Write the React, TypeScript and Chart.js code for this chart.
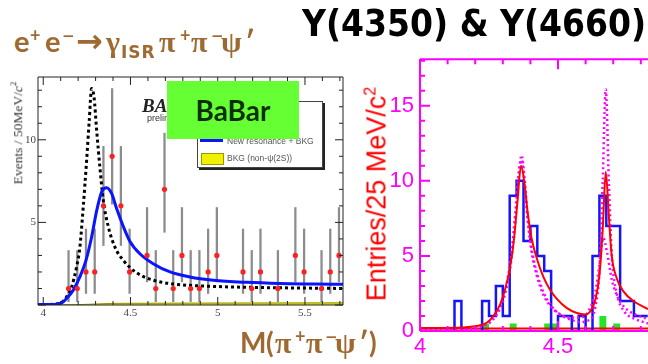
import React, { useEffect, useRef } from "react";
import { Chart, registerables } from "chart.js";

Chart.register(...registerables);

// ---------------- Left panel (BaBar) ----------------
const leftXTicks = [4, 4.5, 5, 5.5];
const leftYTicks = [5, 10];
const leftBinCenters = [4.145, 4.195, 4.245, 4.295, 4.345, 4.395, 4.445, 4.495, 4.595, 4.645, 4.695, 4.745, 4.795, 4.845, 4.895, 4.945, 4.995, 5.145, 5.195, 5.245, 5.345, 5.445, 5.495, 5.595, 5.645, 5.695];
const leftCounts = [1, 1, 2, 2, 6, 9, 6, 2, 3, 1, 7, 1, 3, 1, 1, 2, 3, 2, 1, 2, 1, 3, 2, 1, 2, 3];
const leftErrLow = [0.2, 0.2, 0.7, 0.7, 3.6, 6.1, 3.6, 0.7, 1.4, 0.2, 4.4, 0.2, 1.4, 0.2, 0.2, 0.7, 1.4, 0.7, 0.2, 0.7, 0.2, 1.4, 0.7, 0.2, 0.7, 1.4];
const leftErrHigh = [3.3, 3.3, 4.6, 4.6, 9.6, 13.1, 9.6, 4.6, 5.9, 3.3, 10.4, 3.3, 5.9, 3.3, 3.3, 4.6, 5.9, 4.6, 3.3, 4.6, 3.3, 5.9, 4.6, 3.3, 4.6, 5.9];
const leftFitX = [3.97, 4.077, 4.115, 4.143, 4.172, 4.21, 4.245, 4.277, 4.306, 4.335, 4.363, 4.392, 4.42, 4.459, 4.497, 4.554, 4.63, 4.727, 4.84, 4.975, 5.166, 5.357, 5.55, 5.718];
const leftFitY = [0.03, 0.05, 0.2, 0.5, 0.9, 1.7, 2.7, 4.1, 5.7, 6.85, 7.1, 6.75, 5.85, 4.75, 3.85, 3.1, 2.5, 2.0, 1.7, 1.5, 1.37, 1.3, 1.27, 1.25];
const leftDotX = [3.97, 4.096, 4.134, 4.163, 4.191, 4.21, 4.229, 4.249, 4.264, 4.277, 4.291, 4.306, 4.325, 4.344, 4.373, 4.411, 4.459, 4.535, 4.631, 4.746, 4.918, 5.166, 5.453, 5.718];
const leftDotY = [0.02, 0.1, 0.5, 1.1, 2.3, 3.5, 5.9, 8.8, 11.2, 13.1, 12.6, 10.6, 8.3, 6.35, 4.74, 3.5, 2.7, 1.95, 1.5, 1.27, 1.15, 1.07, 1.03, 1.0];
const leftBkgX = [3.97, 4.2, 4.3, 4.4, 5.0, 5.718];
const leftBkgY = [0, 0.02, 0.06, 0.1, 0.12, 0.13];

// ---------------- Right panel ----------------
const rightXTicks = [4, 4.5];
const rightYTicks = [0, 5, 10, 15];
const rightBinWidth = 0.025;
const rightBinLow = [4.0, 4.025, 4.05, 4.075, 4.1, 4.125, 4.15, 4.175, 4.2, 4.225, 4.25, 4.275, 4.3, 4.325, 4.35, 4.375, 4.4, 4.425, 4.45, 4.475, 4.5, 4.525, 4.55, 4.575, 4.6, 4.625, 4.65, 4.675, 4.7, 4.725, 4.75, 4.775, 4.8];
const rightCounts = [0, 0, 0, 0, 0, 2, 0, 0, 0, 2, 1, 3, 1, 9, 10, 6, 7, 5, 4, 0, 1, 1, 0, 1, 0, 5, 9, 7, 7, 2, 2, 1, 1];
const rightGreen = [0, 0, 0, 0, 0, 0, 0, 0, 0, 0.5, 0, 0, 0, 0.5, 0, 0, 0, 0, 0.5, 0.5, 0, 0, 0, 0, 0, 0, 1, 0, 0.5, 0, 0, 0, 0];
const rightFitX = [4.0, 4.133, 4.205, 4.242, 4.266, 4.29, 4.308, 4.326, 4.341, 4.353, 4.366, 4.378, 4.39, 4.404, 4.423, 4.447, 4.471, 4.495, 4.531, 4.568, 4.598, 4.616, 4.634, 4.65, 4.662, 4.673, 4.684, 4.694, 4.713, 4.737, 4.773, 4.826];
const rightFitY = [0.2, 0.22, 0.33, 0.55, 1.0, 1.76, 2.75, 4.2, 6.2, 8.6, 11.0, 9.9, 7.9, 6.2, 4.85, 3.6, 2.75, 2.16, 1.54, 1.2, 1.1, 1.28, 2.0, 3.7, 6.8, 10.6, 7.7, 5.1, 3.5, 2.64, 2.0, 1.45];
const rightSolAX = [4.0, 4.15, 4.22, 4.26, 4.29, 4.31, 4.33, 4.345, 4.357, 4.368, 4.378, 4.39, 4.404, 4.423, 4.447, 4.471, 4.5, 4.54, 4.58, 4.61, 4.635, 4.65, 4.662, 4.673, 4.684, 4.695, 4.713, 4.74, 4.78, 4.826];
const rightSolAY = [0.05, 0.1, 0.3, 0.7, 1.5, 2.6, 4.6, 7.2, 10.2, 11.7, 10.3, 7.6, 5.5, 3.9, 2.6, 1.8, 1.2, 0.8, 0.6, 0.7, 1.6, 4.0, 10.0, 16.1, 10.0, 5.0, 2.5, 1.3, 0.8, 0.5];
const rightSolBX = [4.0, 4.15, 4.22, 4.26, 4.29, 4.31, 4.33, 4.345, 4.357, 4.368, 4.378, 4.39, 4.404, 4.423, 4.447, 4.471, 4.5, 4.54, 4.58, 4.61, 4.635, 4.65, 4.664, 4.678, 4.695, 4.713, 4.74, 4.78, 4.826];
const rightSolBY = [0.05, 0.1, 0.3, 0.7, 1.6, 2.8, 5.0, 7.8, 10.4, 11.4, 10.0, 7.4, 5.3, 3.7, 2.4, 1.7, 1.2, 0.9, 0.9, 1.3, 2.6, 4.4, 6.2, 5.2, 3.4, 2.4, 1.6, 1.1, 0.8];
const rightBkgX = [4.0, 4.826];
const rightBkgY = [0.17, 0.17];

const pts = (xs: number[], ys: number[]) => xs.map((x, i) => ({ x, y: ys[i] }));
const hist = (lows: number[], vals: number[], w: number) =>
  lows.map((x, i) => ({ x, y: vals[i] })).concat([{ x: lows[lows.length - 1] + w, y: vals[vals.length - 1] }]);

const frameTicks = {
  id: "frameTicks",
  afterDatasetsDraw(chart: any, _a: any, o: any) {
    const { ctx, chartArea: a, scales } = chart;
    const xs = scales.x;
    const ys = scales.y;
    ctx.save();
    ctx.strokeStyle = o.color;
    ctx.lineWidth = o.width;
    ctx.beginPath();
    if (o.sides.includes("left")) { ctx.moveTo(a.left, a.top); ctx.lineTo(a.left, a.bottom); }
    if (o.sides.includes("right")) { ctx.moveTo(a.right, a.top); ctx.lineTo(a.right, a.bottom); }
    if (o.sides.includes("top")) { ctx.moveTo(a.left, a.top); ctx.lineTo(a.right, a.top); }
    if (o.sides.includes("bottom")) { ctx.moveTo(a.left, a.bottom); ctx.lineTo(a.right, a.bottom); }
    ctx.stroke();
    ctx.lineWidth = o.tickWidth;
    ctx.beginPath();
    const isMajor = (v: number, m: number) => Math.abs(v / m - Math.round(v / m)) < 1e-6;
    for (let i = Math.ceil(xs.min / o.xStep - 1e-9); i * o.xStep <= xs.max + 1e-9; i++) {
      const v = i * o.xStep;
      const p = xs.getPixelForValue(v);
      const L = isMajor(v, o.xMajor) ? o.major : o.minor;
      if (o.xTickSides.includes("bottom")) { ctx.moveTo(p, a.bottom); ctx.lineTo(p, a.bottom - L); }
      if (o.xTickSides.includes("top")) { ctx.moveTo(p, a.top); ctx.lineTo(p, a.top + L); }
    }
    for (let i = Math.ceil(ys.min / o.yStep - 1e-9); i * o.yStep <= ys.max + 1e-9; i++) {
      const v = i * o.yStep;
      const p = ys.getPixelForValue(v);
      const L = isMajor(v, o.yMajor) ? o.major : o.minor;
      if (o.yTickSides.includes("left")) { ctx.moveTo(a.left, p); ctx.lineTo(a.left + L, p); }
      if (o.yTickSides.includes("right")) { ctx.moveTo(a.right, p); ctx.lineTo(a.right - L, p); }
    }
    ctx.stroke();
    ctx.restore();
  },
};

const brown = "#9f6a32";
type Face = "lato" | "serif" | "dvb";
const FACE: Record<Face, { css: (s: number) => string; k: number }> = {
  lato: { css: (s) => `bold ${s}px Lato`, k: 0.886 },
  serif: { css: (s) => `bold ${s}px "Liberation Serif"`, k: 0.838 },
  dvb: { css: (s) => `bold ${s}px "DejaVu Sans"`, k: 0.846 },
};
// a glyph run placed by its left edge and baseline
const G = ({ x, b, f, s, t, ls = 0 }: { x: number; b: number; f: Face; s: number; t: string; ls?: number }) => (
  <span style={{ position: "absolute", left: x, top: b - FACE[f].k * s, font: FACE[f].css(s), lineHeight: `${s}px`, letterSpacing: ls, color: brown, whiteSpace: "nowrap" }}>{t}</span>
);

export default function App() {
  const leftRef = useRef<HTMLCanvasElement>(null);
  const rightRef = useRef<HTMLCanvasElement>(null);

  useEffect(() => {
    document.body.style.margin = "0";
    const left = new Chart(leftRef.current as HTMLCanvasElement, {
      type: "scatter",
      data: {
        datasets: [
          { type: "scatter", label: "Data", data: pts(leftBinCenters, leftCounts), pointRadius: 2.6, pointBackgroundColor: "#ff2020", pointBorderWidth: 0, order: 1 } as any,
          { type: "line", label: "New resonance + BKG", data: pts(leftFitX, leftFitY), borderColor: "#0a14ff", borderWidth: 3, pointRadius: 0, cubicInterpolationMode: "monotone", order: 2 } as any,
          { type: "line", label: "Y(4260) + BKG", data: pts(leftDotX, leftDotY), borderColor: "#000", borderWidth: 3, borderDash: [3, 3], pointRadius: 0, cubicInterpolationMode: "monotone", order: 3 } as any,
          { type: "bar", label: "errors", data: leftBinCenters.map((x, i) => ({ x, y: [leftErrLow[i], leftErrHigh[i]] })), backgroundColor: "#8c8c8c", barThickness: 1.6, order: 4 } as any,
          { type: "line", label: "BKG (non-psi(2S))", data: pts(leftBkgX, leftBkgY), borderColor: "#8f8f00", borderWidth: 1, backgroundColor: "#e6e600", fill: "origin", pointRadius: 0, order: 5 } as any,
        ],
      },
      options: {
        animation: false,
        responsive: false,
        maintainAspectRatio: false,
        events: [],
        layout: { padding: { top: 17, right: 7, left: 0, bottom: 0 } },
        plugins: {
          legend: { display: false },
          tooltip: { enabled: false },
          frameTicks: { color: "#222", width: 1, tickWidth: 1, sides: ["left", "right", "top", "bottom"], xTickSides: ["top", "bottom"], yTickSides: ["left", "right"], xStep: 0.1, xMajor: 0.5, yStep: 1, yMajor: 5, minor: 4, major: 8 },
        } as any,
        scales: {
          x: {
            type: "linear", min: 3.97, max: 5.718, offset: false,
            afterFit: (s: any) => { s.height = 45; },
            afterBuildTicks: (s: any) => { s.ticks = leftXTicks.map((v) => ({ value: v })); },
            ticks: { callback: (v: any) => String(v), color: "#444", font: { family: "Liberation Serif", size: 11 }, padding: 2, maxRotation: 0, autoSkip: false },
            grid: { display: false, drawTicks: false },
            border: { display: false },
          },
          y: {
            type: "linear", min: 0, max: 13.8,
            afterFit: (s: any) => { s.width = 38; },
            afterBuildTicks: (s: any) => { s.ticks = leftYTicks.map((v) => ({ value: v })); },
            ticks: { callback: (v: any) => String(v), color: "#444", font: { family: "Liberation Serif", size: 11 }, padding: 2, autoSkip: false },
            grid: { display: false, drawTicks: false },
            border: { display: false },
          },
        },
      },
      plugins: [frameTicks as any],
    });

    const right = new Chart(rightRef.current as HTMLCanvasElement, {
      type: "scatter",
      data: {
        datasets: [
          { type: "line", label: "Fit", data: pts(rightFitX, rightFitY), borderColor: "#ff0000", borderWidth: 2, pointRadius: 0, cubicInterpolationMode: "monotone", order: 1 } as any,
          { type: "line", label: "Solution A", data: pts(rightSolAX, rightSolAY), borderColor: "#ff00ff", borderWidth: 2.5, borderDash: [2, 3], pointRadius: 0, cubicInterpolationMode: "monotone", order: 2 } as any,
          { type: "line", label: "Solution B", data: pts(rightSolBX, rightSolBY), borderColor: "#ff00ff", borderWidth: 2.5, borderDash: [2, 3], pointRadius: 0, cubicInterpolationMode: "monotone", order: 2 } as any,
          { type: "line", label: "Data", data: hist(rightBinLow, rightCounts, rightBinWidth), borderColor: "#1414ff", borderWidth: 2.5, stepped: true, pointRadius: 0, order: 3 } as any,
          { type: "line", label: "Background", data: pts(rightBkgX, rightBkgY), borderColor: "#ff0000", borderWidth: 2, pointRadius: 0, order: 4 } as any,
          { type: "line", label: "Sideband", data: hist(rightBinLow, rightGreen, rightBinWidth), borderWidth: 0, borderColor: "rgba(0,0,0,0)", backgroundColor: "#22e622", fill: "origin", stepped: true, pointRadius: 0, order: 5 } as any,
        ],
      },
      options: {
        animation: false,
        responsive: false,
        maintainAspectRatio: false,
        events: [],
        layout: { padding: { top: 13, right: 0, left: 0, bottom: 0 } },
        plugins: {
          legend: { display: false },
          tooltip: { enabled: false },
          frameTicks: { color: "#ff00ff", width: 2, tickWidth: 2, sides: ["left", "top", "bottom"], xTickSides: ["top", "bottom"], yTickSides: ["left"], xStep: 0.1, xMajor: 0.5, yStep: 1, yMajor: 5, minor: 5, major: 10 },
        } as any,
        scales: {
          x: {
            type: "linear", min: 4.0, max: 4.826, offset: false,
            afterFit: (s: any) => { s.height = 33; },
            afterBuildTicks: (s: any) => { s.ticks = rightXTicks.map((v) => ({ value: v })); },
            ticks: { callback: (v: any) => String(v), color: "#ff00ff", font: { family: "Liberation Sans", size: 22 }, padding: 3, maxRotation: 0, autoSkip: false },
            grid: { display: false, drawTicks: false },
            border: { display: false },
          },
          y: {
            type: "linear", min: 0, max: 18.1,
            afterFit: (s: any) => { s.width = 80; },
            afterBuildTicks: (s: any) => { s.ticks = rightYTicks.map((v) => ({ value: v })); },
            ticks: { callback: (v: any) => String(v), color: "#ff00ff", font: { family: "Liberation Sans", size: 22 }, padding: 6, autoSkip: false },
            grid: { display: false, drawTicks: false },
            border: { display: false },
          },
        },
      },
      plugins: [frameTicks as any],
    });

    return () => {
      left.destroy();
      right.destroy();
    };
  }, []);

  return (
    <div style={{ position: "fixed", left: 0, top: 0, width: 648, height: 364, overflow: "hidden", background: "#fff" }}>
      <canvas ref={leftRef} width={350} height={290} style={{ position: "absolute", left: 0, top: 60 }} />
      <canvas ref={rightRef} width={308} height={324} style={{ position: "absolute", left: 340, top: 40 }} />

      {/* Title */}
      <div style={{ position: "absolute", left: 302, top: 4, font: 'bold 38px "DejaVu Sans"', lineHeight: "38px", whiteSpace: "nowrap", transform: "scaleX(0.87)", transformOrigin: "0 0", color: "#000" }}>
        Y(4350) &amp; Y(4660)
      </div>

      {/* Process label: e+e- -> gamma_ISR pi+ pi- psi' */}
      <G x={14} b={52} f="lato" s={29} t="e" />
      <G x={30} b={42} f="lato" s={18} t="+" />
      <G x={45} b={52} f="lato" s={29} t="e" />
      <G x={62} b={42} f="dvb" s={15} t="−" />
      <G x={76} b={52} f="dvb" s={32} t="→" />
      <G x={106} b={52} f="serif" s={30} t="γ" />
      <G x={121} b={58} f="dvb" s={17} t="ISR" ls={1} />
      <G x={159} b={52} f="serif" s={30} t="π" />
      <G x={180} b={42} f="lato" s={18} t="+" />
      <G x={191} b={52} f="serif" s={30} t="π" />
      <G x={211} b={42} f="dvb" s={15} t="−" />
      <G x={221} b={52} f="serif" s={30} t="ψ" />
      <G x={245} b={52} f="lato" s={29} t="′" />

      {/* Mass label: M(pi+ pi- psi') */}
      <G x={240} b={353} f="lato" s={28} t="M" />
      <G x={266} b={353} f="lato" s={28} t="(" />
      <G x={275} b={353} f="serif" s={30} t="π" />
      <G x={295} b={343} f="lato" s={18} t="+" />
      <G x={306} b={353} f="serif" s={30} t="π" />
      <G x={325} b={343} f="dvb" s={15} t="−" />
      <G x={335} b={353} f="serif" s={30} t="ψ" />
      <G x={359} b={353} f="lato" s={28} t="′" />
      <G x={369} b={353} f="lato" s={28} t=")" />

      {/* Left y title */}
      <div style={{ position: "absolute", left: 17, top: 133, transform: "translate(-50%,-50%) rotate(-90deg)", font: '13.5px "Liberation Serif"', color: "#333", whiteSpace: "nowrap" }}>
        Events / 50MeV/<i>c</i><sup style={{ fontSize: 9 }}>2</sup>
      </div>

      {/* Right y title */}
      <div style={{ position: "absolute", left: 377, top: 194, transform: "translate(-50%,-50%) rotate(-90deg)", font: '27px "Liberation Sans"', color: "#ff0000", whiteSpace: "nowrap" }}>
        Entries/25 MeV/c<sup style={{ fontSize: 16 }}>2</sup>
      </div>

      {/* Right x title (cut off at bottom) */}
      <div style={{ position: "absolute", left: 497, top: 356, font: '22px "Liberation Sans"', lineHeight: "22px", color: "#ff0000", whiteSpace: "nowrap" }}>
        M(π<sup style={{ fontSize: 14 }}>+</sup>π<sup style={{ fontSize: 14 }}>−</sup>ψ(2S)) (GeV/c<sup>2</sup>)
      </div>

      {/* BaBar logo (partly hidden) */}
      <div style={{ position: "absolute", left: 142, top: 95, font: 'italic bold 19px "Liberation Serif"', color: "#222", whiteSpace: "nowrap" }}>BABAR</div>
      <div style={{ position: "absolute", left: 147, top: 113, font: '9px "Liberation Sans"', color: "#333", whiteSpace: "nowrap" }}>preliminary</div>

      {/* Legend box */}
      <div style={{ position: "absolute", left: 197, top: 101, width: 124, height: 65, border: "1px solid #444", boxShadow: "2px 2px 0 #222", background: "#fff" }} />
      <div style={{ position: "absolute", left: 200, top: 139, width: 23, height: 3, background: "#0a14ff" }} />
      <div style={{ position: "absolute", left: 227, top: 136, font: '8.5px "Liberation Sans"', lineHeight: "10px", color: "#555", whiteSpace: "nowrap" }}>New resonance + BKG</div>
      <div style={{ position: "absolute", left: 201, top: 153, width: 21, height: 10, background: "#f0f000", border: "1px solid #999900" }} />
      <div style={{ position: "absolute", left: 227, top: 153, font: '8.5px "Liberation Sans"', lineHeight: "10px", color: "#555", whiteSpace: "nowrap" }}>BKG (non-ψ(2S))</div>

      {/* Green BaBar box */}
      <div style={{ position: "absolute", left: 167, top: 81, width: 132, height: 58, background: "#66ff33", display: "flex", alignItems: "center", justifyContent: "center", font: 'bold 28px Lato', color: "#0b3000" }}>
        BaBar
      </div>
    </div>
  );
}
